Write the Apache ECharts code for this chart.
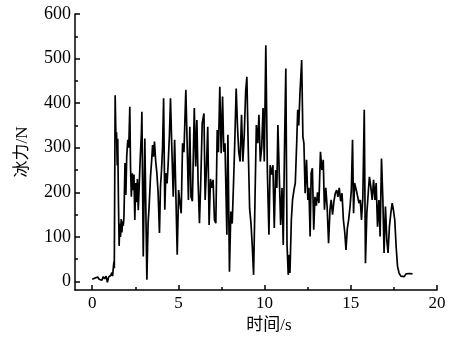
<!DOCTYPE html>
<html>
<head>
<meta charset="utf-8">
<script src="https://cdn.jsdelivr.net/npm/echarts@6/dist/echarts.min.js"></script>
<style>html,body{margin:0;padding:0;background:#fff}#c{width:460px;height:340px}</style>
</head>
<body>
<div id="c"></div>
<script>
// time (s)
const times = [0.00,0.08,0.16,0.24,0.32,0.40,0.48,0.56,0.64,0.72,0.80,0.88,0.95,1.02,1.08,1.14,1.18,1.22,1.26,1.28,
1.33,1.37,1.41,1.45,1.48,1.52,1.56,1.60,1.64,1.68,1.72,1.76,1.80,1.84,1.90,1.95,2.00,2.06,2.12,2.18,2.22,2.27,2.32,2.37,2.42,2.47,2.52,2.57,2.62,2.67,2.72,2.78,2.85,2.88,2.96,3.05,3.17,3.24,3.30,3.38,3.45,3.50,3.55,3.61,3.68,3.75,3.82,3.90,3.96,4.02,4.08,4.14,4.21,4.27,4.34,4.40,4.48,4.54,4.62,4.70,4.78,4.86,4.93,5.01,5.08,5.16,5.24,5.32,5.43,5.50,5.58,5.66,5.73,5.81,5.92,6.00,6.07,6.14,6.22,6.30,6.38,6.48,6.55,6.63,6.70,6.78,6.86,6.94,7.01,7.09,7.17,7.25,7.32,7.40,7.48,7.56,7.63,7.70,7.81,7.87,7.96,8.04,8.12,8.20,8.27,8.35,8.43,8.50,8.58,8.66,8.74,8.82,8.90,8.97,9.05,9.13,9.21,9.29,9.36,9.44,9.52,9.60,9.67,9.75,9.83,9.91,9.98,10.07,10.16,10.25,10.32,10.40,10.48,10.56,10.64,10.71,10.77,10.85,10.93,11.01,11.08,11.16,11.23,11.30,11.37,11.43,11.47,11.55,11.62,11.70,11.78,11.86,11.92,11.98,12.05,12.15,12.22,12.28,12.35,12.43,12.51,12.57,12.64,12.70,12.77,12.85,12.92,13.00,13.07,13.15,13.24,13.32,13.40,13.47,13.55,13.63,13.71,13.79,13.86,13.94,14.02,14.10,14.18,14.25,14.33,14.41,14.49,14.57,14.65,14.72,14.80,14.88,14.96,15.03,15.10,15.16,15.22,15.27,15.32,15.40,15.47,15.55,15.62,15.70,15.78,15.85,15.93,16.01,16.08,16.16,16.24,16.32,16.40,16.47,16.55,16.63,16.70,16.78,16.86,16.93,17.01,17.09,17.16,17.24,17.32,17.40,17.47,17.55,17.63,17.71,17.80,17.90,18.00,18.10,18.20,18.30,18.40,18.50,18.58];
// ice force (N)
const force = [5,3,8,4,10,5,9,3,11,6,12,-2,10,8,14,20,12,30,45,30,
418,330,335,260,320,180,80,130,100,140,110,135,125,145,266,194,280,318,300,392,258,190,243,205,240,138,221,178,230,160,210,273,330,381,56,321,4,131,168,235,273,306,280,314,270,243,200,109,213,250,300,411,161,243,220,260,330,411,295,190,318,180,60,205,178,153,310,290,430,318,183,347,190,180,389,258,362,225,131,230,355,377,183,260,347,127,230,210,228,138,131,340,290,437,288,415,291,310,105,329,22,157,130,224,314,433,344,290,269,374,269,330,426,459,299,164,130,75,15,179,351,310,374,269,300,389,269,530,247,105,261,240,261,120,250,210,351,240,127,210,82,314,478,82,15,60,19,138,183,205,221,310,385,350,422,497,325,310,198,273,183,210,101,243,254,116,190,170,200,176,291,250,273,161,210,165,86,160,183,150,180,198,205,190,210,180,198,138,110,71,120,140,170,205,318,153,221,221,205,190,176,183,138,190,385,41,153,198,235,213,183,228,183,221,123,183,101,276,183,64,168,93,64,123,153,176,161,138,78,34,19,12,16,11,17,13,18,15,17];
const xMajor = [0,5,10,15,20];
const xMinor = [2.5,7.5,12.5,17.5];
const yMajor = [0,100,200,300,400,500,600];
const yMinor = [50,150,250,350,450,550];

const font = '"Liberation Serif", "Noto Sans CJK SC", serif';
const data = times.map((t,i)=>[t, force[i]]);
const chart = echarts.init(document.getElementById('c'), null, {renderer:'canvas'});
const axLine = {show:true, lineStyle:{color:'#000', width:1.5}};
chart.setOption({
  animation:false,
  backgroundColor:'#fff',
  grid:{left:75, right:23, top:14, bottom:50},
  xAxis:[
    {type:'value', min:-1, max:20, position:'bottom',
     axisLine:Object.assign({onZero:false}, axLine),
     axisTick:{show:true, inside:true, length:5, customValues:xMajor, lineStyle:{color:'#000', width:1.5}},
     axisLabel:{customValues:xMajor, color:'#000', fontSize:17, fontFamily:font, margin:5},
     splitLine:{show:false},
     name:'时间/s', nameLocation:'middle', nameGap:27,
     nameTextStyle:{color:'#000', fontSize:17, fontFamily:font, padding:[0,0,0,26]}},
    {type:'value', min:-1, max:20, position:'bottom',
     axisLine:{show:false, onZero:false},
     axisTick:{show:true, inside:true, length:3, customValues:xMinor, lineStyle:{color:'#000', width:1.5}},
     axisLabel:{show:false}, splitLine:{show:false}}
  ],
  yAxis:[
    {type:'value', min:-19, max:600, position:'left',
     axisLine:Object.assign({onZero:false}, axLine),
     axisTick:{show:true, inside:true, length:5, customValues:yMajor, lineStyle:{color:'#000', width:1.5}},
     axisLabel:{customValues:yMajor, color:'#000', fontSize:18, fontFamily:font, margin:4},
     splitLine:{show:false},
     name:'冰力/N', nameLocation:'middle', nameGap:44,
     nameTextStyle:{color:'#000', fontSize:17, fontFamily:font}},
    {type:'value', min:-19, max:600, position:'left',
     axisLine:{show:false, onZero:false},
     axisTick:{show:true, inside:true, length:3, customValues:yMinor, lineStyle:{color:'#000', width:1.5}},
     axisLabel:{show:false}, splitLine:{show:false}}
  ],
  series:[{
    type:'line', data:data, xAxisIndex:0, yAxisIndex:0,
    showSymbol:false, symbol:'none',
    lineStyle:{color:'#000', width:1.7}
  }]
});
</script>
</body>
</html>
